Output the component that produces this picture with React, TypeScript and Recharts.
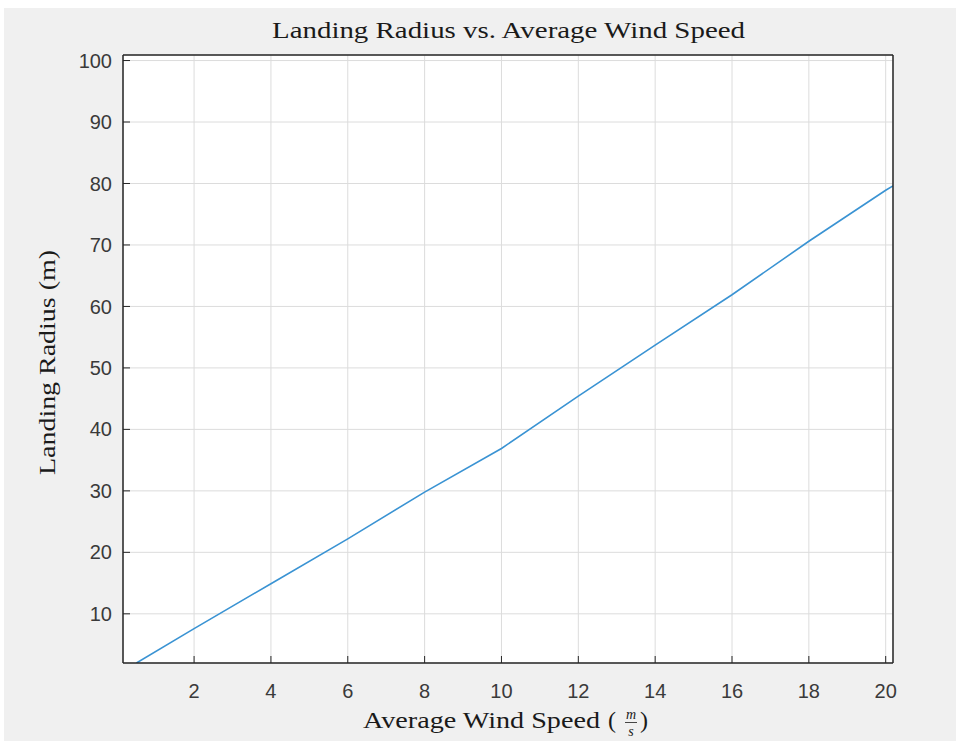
import React from 'react';
import { LineChart, Line, XAxis, YAxis, CartesianGrid } from 'recharts';

const windSpeed = [0.5, 2, 4, 6, 8, 10, 12, 14, 16, 18, 20, 20.19];
const landingRadius = [2.0, 7.6, 14.9, 22.2, 29.8, 36.9, 45.4, 53.7, 61.9, 70.6, 78.9, 79.6];
const xTicks = [2, 4, 6, 8, 10, 12, 14, 16, 18, 20];
const yTicks = [10, 20, 30, 40, 50, 60, 70, 80, 90, 100];

const data = windSpeed.map((x, i) => ({ x, r: landingRadius[i] }));

const AXIS = '#262626';
const tickFont = { fontFamily: 'Liberation Sans, Arial, sans-serif', fontSize: 20, fill: '#3a3a3a' };
const serif = 'Liberation Serif, Times New Roman, serif';

export default function App() {
  return (
    <div style={{ position: 'absolute', left: 4, top: 8, width: 952, height: 733, background: '#f0f0f0' }}>
      <LineChart width={952} height={733} data={data} margin={{ top: 37, right: 53, bottom: 38, left: 59 }}>
        <CartesianGrid xAxisId="b" yAxisId="l" fill="#ffffff" stroke="#dcdcdc" strokeWidth={1} />
        <XAxis
          xAxisId="b"
          dataKey="x"
          type="number"
          domain={[0.15, 20.19]}
          ticks={xTicks}
          allowDataOverflow
          height={40}
          tickSize={-7}
          tickMargin={28}
          tick={tickFont}
          axisLine={{ stroke: AXIS, strokeWidth: 1.5 }}
          tickLine={{ stroke: AXIS }}
        />
        <XAxis
          xAxisId="t"
          orientation="top"
          dataKey="x"
          type="number"
          domain={[0.15, 20.19]}
          ticks={xTicks}
          allowDataOverflow
          height={10}
          tickSize={-7}
          tick={false}
          axisLine={{ stroke: AXIS, strokeWidth: 1.5 }}
          tickLine={{ stroke: AXIS }}
        />
        <YAxis
          yAxisId="l"
          type="number"
          domain={[2, 100.9]}
          ticks={yTicks}
          allowDataOverflow
          width={60}
          tickSize={-7}
          tickMargin={18}
          tick={tickFont}
          axisLine={{ stroke: AXIS, strokeWidth: 1.5 }}
          tickLine={{ stroke: AXIS }}
        />
        <YAxis
          yAxisId="r"
          orientation="right"
          type="number"
          domain={[2, 100.9]}
          ticks={yTicks}
          allowDataOverflow
          width={10}
          tickSize={-7}
          tick={false}
          axisLine={{ stroke: AXIS, strokeWidth: 1.5 }}
          tickLine={{ stroke: AXIS }}
        />
        <Line
          xAxisId="b"
          yAxisId="l"
          type="linear"
          dataKey="r"
          stroke="#3a93d3"
          strokeWidth={1.6}
          dot={false}
          isAnimationActive={false}
        />
      </LineChart>
      <svg width={952} height={733} style={{ position: 'absolute', left: 0, top: 0, pointerEvents: 'none' }}>
        <text x={268} y={30} fontFamily={serif} fontSize={24} fill="#1a1a1a" textLength={473} lengthAdjust="spacingAndGlyphs">
          Landing Radius vs. Average Wind Speed
        </text>
        <text x={359} y={720} fontFamily={serif} fontSize={24} fill="#1a1a1a" textLength={237} lengthAdjust="spacingAndGlyphs">
          Average Wind Speed
        </text>
        <text x={604} y={720} fontFamily={serif} fontSize={24} fill="#1a1a1a">(</text>
        <text x={627} y={711} fontFamily={serif} fontSize={14} fontStyle="italic" fill="#1a1a1a" textAnchor="middle">m</text>
        <line x1={621} x2={633} y1={714.5} y2={714.5} stroke="#1a1a1a" strokeWidth={0.8} />
        <text x={627} y={728} fontFamily={serif} fontSize={14} fontStyle="italic" fill="#1a1a1a" textAnchor="middle">s</text>
        <text x={636} y={720} fontFamily={serif} fontSize={24} fill="#1a1a1a">)</text>
        <text
          transform="translate(51,354.5) rotate(-90)"
          textAnchor="middle"
          fontFamily={serif}
          fontSize={24}
          fill="#1a1a1a"
          textLength={225}
          lengthAdjust="spacingAndGlyphs"
        >
          Landing Radius (m)
        </text>
      </svg>
    </div>
  );
}
